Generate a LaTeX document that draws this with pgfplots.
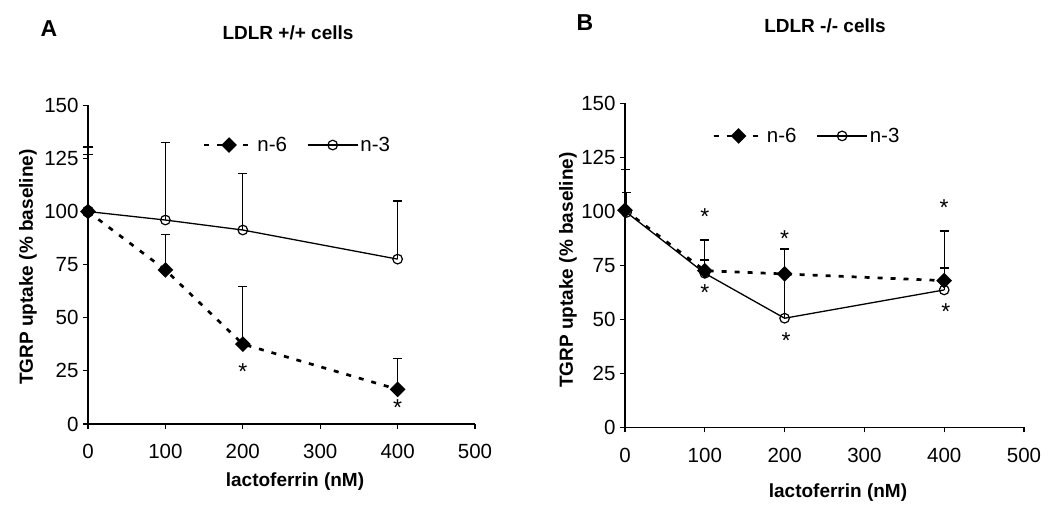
\documentclass[border=0pt]{standalone}
\usepackage{fontspec}
\setmainfont{Liberation Sans}
\usepackage{pgfplots}
\pgfplotsset{compat=1.18}

\newcommand{\fs}{\fontsize{19bp}{22bp}\selectfont}
\newcommand{\ft}{\fontsize{20.5bp}{24bp}\selectfont}

\pgfplotsset{
  panel/.style={
    scale only axis,
    anchor=south west,
    xmin=0, xmax=500, ymin=0, ymax=150,
    xtick={0,100,...,500},
    ytick={0,25,...,150},
    axis lines=left,
    axis line style={-, line width=1.3bp},
    tick style={line width=1.2bp, black},
    tick align=outside,
    major tick length=5bp,
    tick label style={font=\ft},
    /pgf/number format/assume math mode=true,
    xticklabel style={yshift=-12bp},
    yticklabel style={xshift=-1bp},
    clip=false,
    legend columns=2,
    legend cell align=left,
    legend style={draw=none, fill=none, font=\ft, anchor=west,
      inner sep=0pt, /tikz/every even column/.append style={column sep=18bp}},
    legend image code/.code={\draw[mark repeat=2,mark phase=2,##1] plot coordinates {(0bp,0bp)(25bp,0bp)(50bp,0bp)};},
    error bars/y dir=plus, error bars/y explicit,
    error bars/error mark options={rotate=90, mark size=4.5bp, line width=1.3bp, solid},
    error bars/error bar style={solid, line width=1.3bp},
  },
  nsix/.style={black, line width=2.7bp, dash pattern=on 5bp off 8bp,
    mark=square*, mark size=4.2bp, mark options={solid, rotate=45, fill=black}},
  nthree/.style={black, line width=1.3bp, mark=o, mark size=4.8bp,
    mark options={solid, fill=white, line width=1.2bp}},
  star/.style={only marks, mark=text, text mark={\fontsize{23bp}{26bp}\selectfont *}, forget plot},
}

\begin{document}
\begin{tikzpicture}
\path[use as bounding box] (0bp,0bp) rectangle (1050bp,-526bp);

% Panel A
\begin{axis}[panel, at={(88bp,-424bp)}, width=387bp, height=318.7bp,
  legend style={at={(axis cs:148,131.3)}}]
\addplot[nsix] coordinates {
  (0,100) +- (0,30.4)
  (100,72.5) +- (0,16.7)
  (200,37.6) +- (0,27)
  (400,16.3) +- (0,14.4)
};
\addlegendentry{n-6}
\addplot[nthree] coordinates {
  (0,100) +- (0,27)
  (100,96) +- (0,36.5)
  (200,91.3) +- (0,26.7)
  (400,77.6) +- (0,27.4)
};
\addlegendentry{n-3}
\addplot[nsix, mark=*, mark size=4.8bp, forget plot, draw=none] coordinates {(0,100)};
\addplot[star] coordinates {(200,24.5) (400,7.5)};
\end{axis}

% Panel B
\begin{axis}[panel, at={(625bp,-427.3bp)}, width=399bp, height=324bp,
  legend style={at={(axis cs:109,134.9)}}]
\addplot[nsix] coordinates {
  (0,100.5) +- (0,18.9)
  (100,72.5) +- (0,14.2)
  (200,71) +- (0,11.5)
  (400,67.9) +- (0,23)
};
\addlegendentry{n-6}
\addplot[nthree] coordinates {
  (2,99.5) +- (0,9.3)
  (100,71.3) +- (0,6.2)
  (200,50.5) +- (0,20.5)
  (400,63.6) +- (0,10.2)
};
\addlegendentry{n-3}
\addplot[star] coordinates {
  (100,97.5) (100,62.5) (200,87.5) (202,40) (400,101.5) (402,53.5)
};
\end{axis}

% labels
\node[font=\fontsize{23bp}{26bp}\selectfont\bfseries] at (49bp,-29bp) {A};
\node[font=\fs\bfseries] at (288bp,-33bp) {LDLR +/+ cells};
\node[font=\fs\bfseries, rotate=90] at (28bp,-267bp) {TGRP uptake (\% baseline)};
\node[font=\fs\bfseries] at (295bp,-482bp) {lactoferrin (nM)};

\node[font=\fontsize{23bp}{26bp}\selectfont\bfseries] at (585bp,-23bp) {B};
\node[font=\fs\bfseries] at (825bp,-26bp) {LDLR -/- cells};
\node[font=\fs\bfseries, rotate=90] at (568bp,-270bp) {TGRP uptake (\% baseline)};
\node[font=\fs\bfseries] at (838bp,-493bp) {lactoferrin (nM)};
\end{tikzpicture}
\end{document}
